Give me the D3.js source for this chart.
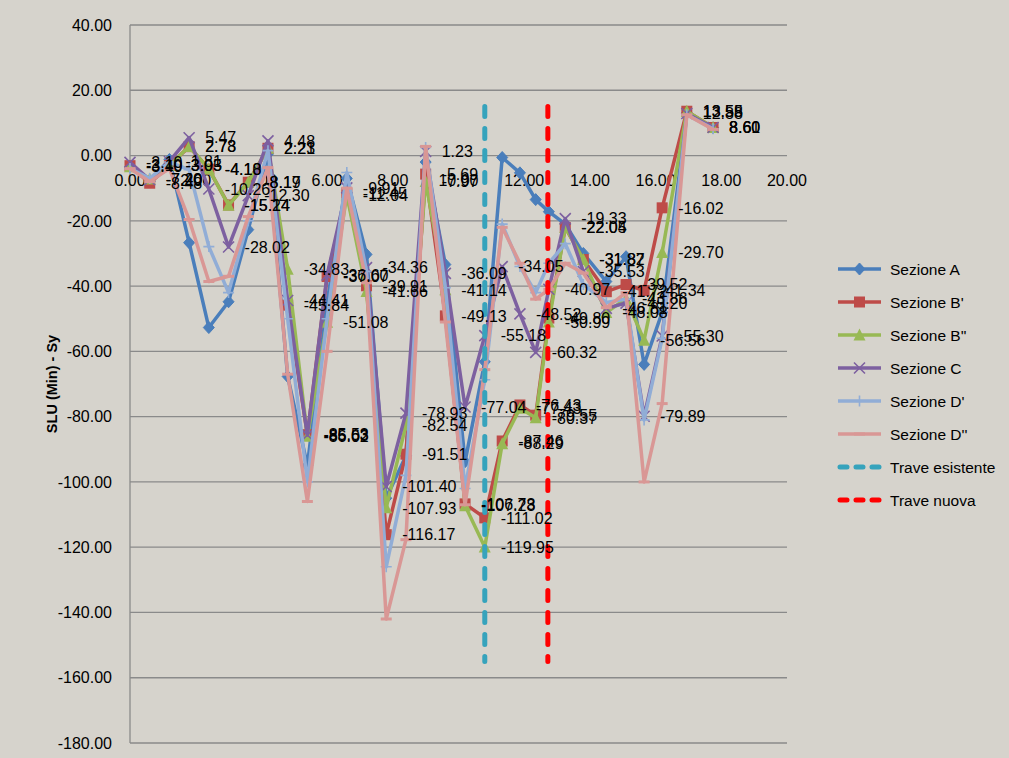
<!DOCTYPE html>
<html>
<head>
<meta charset="utf-8">
<script src="https://cdn.jsdelivr.net/npm/d3@7"></script>
<style>
  html, body { margin: 0; padding: 0; background: #D6D3CC; }
  svg { display: block; font-family: "Liberation Sans", Arial, sans-serif; }
</style>
</head>
<body>
<svg id="chart" width="1009" height="758"></svg>
<script>
// Abscissae of the checked sections along the beam
const stations = [0, 0.6, 1.2, 1.8, 2.4, 3.0, 3.6, 4.2, 4.8, 5.4, 6.0, 6.6, 7.2, 7.8, 8.4, 9.0,
  9.6, 10.2, 10.8, 11.33, 11.87, 12.35, 12.75, 13.25, 13.8, 14.5, 15.1, 15.65, 16.2, 16.95, 17.75];

// SLU (Min) - Sy values per section
const sezioneA = [-3.5, -8.0, -1.2, -26.7, -52.7, -44.8, -22.7, 0.5, -67.7, -95.0, -45.0, -7.0, -30.3,
  -105.0, -92.0, -2.0, -33.4, -93.8, -63.2, -0.6, -5.3, -13.5, -17.2, -21.0, -30.0, -38.6, -31.0,
  -64.0, -48.0, 13.0, 8.5];
const sezioneB1 = [-3.10, -8.48, -3.05, 2.73, -4.18, -15.14, -8.17, 2.23, -45.84, -85.53, -37.07, -11.45,
  -39.91, -116.17, -91.51, -5.69, -49.13, -106.73, -111.02, -87.46, -76.43, -79.55, -49.80, -22.05,
  -31.87, -41.72, -39.52, -41.34, -16.02, 13.58, 8.60];
const sezioneB2 = [-3.40, -7.20, -3.03, 2.78, -4.10, -15.24, -8.19, 2.21, -34.83, -86.02, -51.08, -12.04,
  -41.66, -107.93, -82.54, -7.97, -41.14, -107.28, -119.95, -88.29, -77.43, -80.37, -50.99, -22.04,
  -31.82, -48.08, -43.86, -56.56, -29.70, 13.55, 8.61];
const sezioneC = [-2.10, -7.40, -1.81, 5.47, -10.26, -28.02, -12.30, 4.48, -44.41, -85.63, -36.60, -9.91,
  -34.36, -101.40, -78.93, 1.23, -36.09, -77.04, -55.18, -34.05, -48.52, -60.32, -40.97, -19.33,
  -35.53, -46.81, -45.20, -79.89, -55.30, 12.88, 8.60];
const sezioneD1 = [-4.0, -7.0, -2.0, -4.3, -27.9, -42.0, -20.0, 1.5, -50.0, -100.0, -50.0, -5.2, -35.5,
  -126.0, -98.0, 2.5, -40.5, -102.0, -68.7, -21.0, -34.0, -42.0, -33.0, -27.0, -39.5, -45.0, -44.0,
  -81.0, -56.0, 12.5, 8.2];
const sezioneD2 = [-4.0, -8.0, -4.0, -19.6, -38.6, -37.0, -18.7, -3.7, -67.0, -106.0, -60.0, -10.0, -39.0,
  -142.0, -117.7, 2.8, -51.0, -107.0, -65.6, -22.0, -33.0, -44.0, -41.0, -33.0, -36.0, -46.6, -42.0,
  -100.0, -76.0, 12.5, 8.0];

// Beam positions (vertical reference lines)
const traveEsistenteX = 10.8;
const traveNuovaX = 12.72;
const traveRange = [15, -155];

// Axis ticks
const xTicks = [0, 2, 4, 6, 8, 10, 12, 14, 16, 18, 20];
const yTicks = [40, 20, 0, -20, -40, -60, -80, -100, -120, -140, -160, -180];

const series = [
  { name: "Sezione A",   values: sezioneA,  color: "#4A7EBB", marker: "diamond",  labels: false },
  { name: "Sezione B'",  values: sezioneB1, color: "#BE4B48", marker: "square",   labels: true },
  { name: "Sezione B''", values: sezioneB2, color: "#98B954", marker: "triangle", labels: true },
  { name: "Sezione C",   values: sezioneC,  color: "#7D60A0", marker: "x",        labels: true },
  { name: "Sezione D'",  values: sezioneD1, color: "#91ADD6", marker: "plus",     labels: false },
  { name: "Sezione D''", values: sezioneD2, color: "#D99795", marker: "dash",     labels: false }
];
const beams = [
  { name: "Trave esistente", x: traveEsistenteX, color: "#36A3BC" },
  { name: "Trave nuova",     x: traveNuovaX,     color: "#FF0000" }
];

// Number format with a plain hyphen for negatives
const fmt = d3.formatLocale({ decimal: ".", thousands: ",", grouping: [3], currency: ["", ""], minus: "-" }).format(".2f");

const svg = d3.select("#chart");
const x = d3.scaleLinear().domain([0, 20]).range([130, 787]);
const y = d3.scaleLinear().domain([-180, 40]).range([743, 25]);

// Horizontal gridlines
svg.append("g").selectAll("line").data(yTicks).join("line")
  .attr("x1", x(0)).attr("x2", x(20))
  .attr("y1", d => y(d)).attr("y2", d => y(d))
  .attr("stroke", "#8A8A8A").attr("stroke-width", 1.3);

// Vertical axis line
svg.append("line")
  .attr("x1", x(0)).attr("x2", x(0)).attr("y1", y(40)).attr("y2", y(-180))
  .attr("stroke", "#8A8A8A").attr("stroke-width", 1.3);

// Y tick labels
svg.append("g").selectAll("text").data(yTicks).join("text")
  .attr("x", 112).attr("y", d => y(d)).attr("dy", "0.36em")
  .attr("text-anchor", "end").attr("font-size", 16).attr("fill", "#000")
  .text(fmt);

// X tick labels (axis crosses at zero)
svg.append("g").selectAll("text").data(xTicks).join("text")
  .attr("x", d => x(d)).attr("y", y(0) + 25).attr("dy", "0.36em")
  .attr("text-anchor", "middle").attr("font-size", 16).attr("fill", "#000")
  .text(fmt);

// Y axis title
svg.append("text")
  .attr("transform", `translate(57,${y(-70)}) rotate(-90)`)
  .attr("text-anchor", "middle").attr("font-size", 14.5).attr("font-weight", "bold")
  .attr("fill", "#000").text("SLU  (Min) - Sy");

function drawMarker(g, type, color, cx, cy) {
  const s = 5.5;
  if (type === "diamond") {
    g.append("path").attr("d", `M${cx},${cy - s - 0.5}L${cx + s},${cy}L${cx},${cy + s + 0.5}L${cx - s},${cy}Z`)
      .attr("fill", color).attr("stroke", color).attr("stroke-width", 1);
  } else if (type === "square") {
    g.append("rect").attr("x", cx - s).attr("y", cy - s).attr("width", 2 * s).attr("height", 2 * s)
      .attr("fill", color);
  } else if (type === "triangle") {
    g.append("path").attr("d", `M${cx},${cy - s - 1}L${cx + s + 0.5},${cy + s}L${cx - s - 0.5},${cy + s}Z`)
      .attr("fill", color);
  } else if (type === "x") {
    g.append("path").attr("d", `M${cx - s},${cy - s}L${cx + s},${cy + s}M${cx - s},${cy + s}L${cx + s},${cy - s}`)
      .attr("stroke", color).attr("stroke-width", 1.6).attr("fill", "none");
  } else if (type === "plus") {
    g.append("path").attr("d", `M${cx - s},${cy}L${cx + s},${cy}M${cx},${cy - s}L${cx},${cy + s}`)
      .attr("stroke", color).attr("stroke-width", 1.6).attr("fill", "none");
  } else if (type === "dash") {
    g.append("path").attr("d", `M${cx - s},${cy}L${cx + s},${cy}`)
      .attr("stroke", color).attr("stroke-width", 3).attr("fill", "none");
  }
}

const line = d3.line().x(d => x(d[0])).y(d => y(d[1]));

// Series lines and markers
series.forEach(s => {
  const pts = stations.map((st, i) => [st, s.values[i]]);
  const g = svg.append("g");
  g.append("path").datum(pts).attr("d", line)
    .attr("fill", "none").attr("stroke", s.color).attr("stroke-width", 3.5)
    .attr("stroke-linejoin", "round");
  pts.forEach(p => drawMarker(g, s.marker, s.color, x(p[0]), y(p[1])));
});

// Beam reference lines
beams.forEach(b => {
  svg.append("path").datum([[b.x, traveRange[0]], [b.x, traveRange[1]]]).attr("d", line)
    .attr("stroke", b.color).attr("stroke-width", 5).attr("stroke-linecap", "round")
    .attr("stroke-dasharray", "10,12").attr("fill", "none");
});

// Data labels
series.filter(s => s.labels).forEach(s => {
  svg.append("g").selectAll("text").data(stations.map((st, i) => [st, s.values[i]])).join("text")
    .attr("x", d => x(d[0]) + 16).attr("y", d => y(d[1])).attr("dy", "0.36em")
    .attr("font-size", 16).attr("fill", "#000")
    .text(d => fmt(d[1]));
});

// Legend
const legendItems = series.map(s => ({ name: s.name, color: s.color, marker: s.marker, dashed: false }))
  .concat(beams.map(b => ({ name: b.name, color: b.color, marker: null, dashed: true })));
const lg = svg.append("g");
legendItems.forEach((it, i) => {
  const ly = 269 + i * 33;
  if (it.dashed) {
    lg.append("line").attr("x1", 840).attr("x2", 880).attr("y1", ly).attr("y2", ly)
      .attr("stroke", it.color).attr("stroke-width", 5).attr("stroke-linecap", "round")
      .attr("stroke-dasharray", "7,9");
  } else {
    lg.append("line").attr("x1", 838).attr("x2", 881).attr("y1", ly).attr("y2", ly)
      .attr("stroke", it.color).attr("stroke-width", 3.5);
    drawMarker(lg, it.marker, it.color, 859.5, ly);
  }
  lg.append("text").attr("x", 890).attr("y", ly).attr("dy", "0.36em")
    .attr("font-size", 15.5).attr("fill", "#000").text(it.name);
});
</script>
</body>
</html>
